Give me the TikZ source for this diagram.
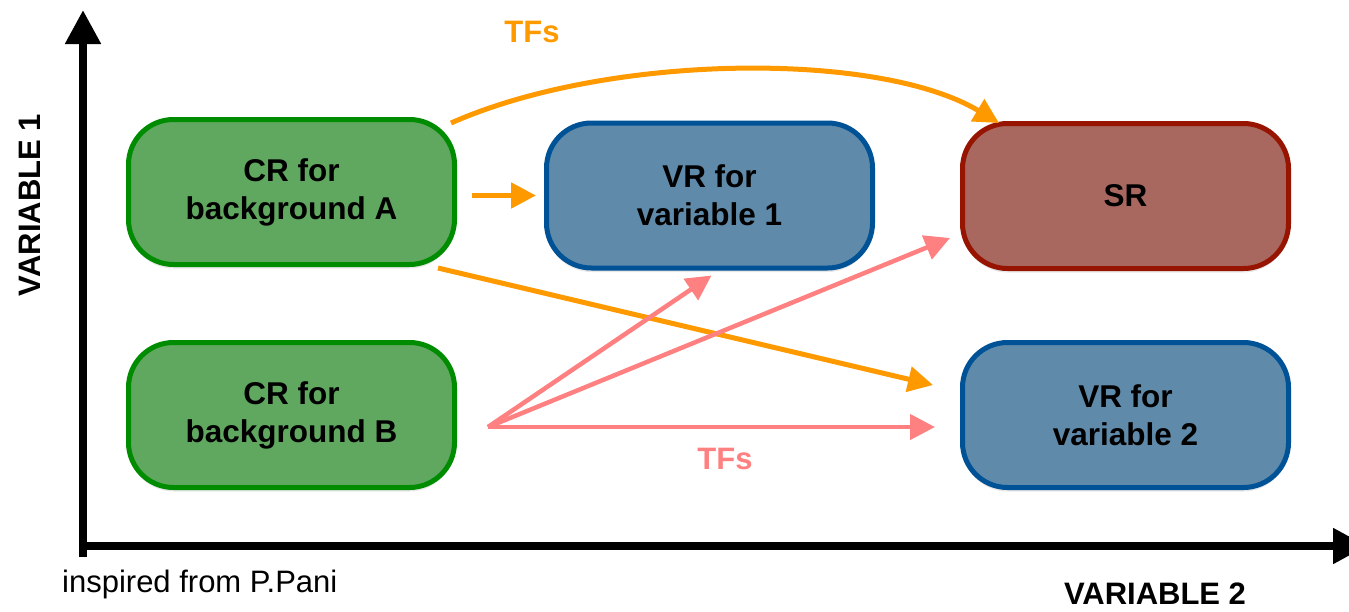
\documentclass[tikz,border=0pt]{standalone}
\usepackage{fontspec}
\setmainfont{Liberation Sans}
\usetikzlibrary{arrows.meta,shadows}

\definecolor{crfill}{RGB}{96,168,96}
\definecolor{crline}{RGB}{0,140,0}
\definecolor{vrfill}{RGB}{95,138,170}
\definecolor{vrline}{RGB}{0,82,150}
\definecolor{srfill}{RGB}{168,104,96}
\definecolor{srline}{RGB}{150,20,0}
\definecolor{tforange}{RGB}{255,153,0}
\definecolor{tfpink}{RGB}{255,128,128}

\begin{document}
\begin{tikzpicture}[x=1pt,y=-1pt,
  region/.style={rectangle,rounded corners=45pt,line width=5pt,
    minimum width=326pt,minimum height=145pt,inner sep=0pt,align=center,
    font=\bfseries\fontsize{31.5}{38}\selectfont,
    drop shadow={opacity=0.18,shadow xshift=0pt,shadow yshift=-4pt}},
  crbox/.style={region,draw=crline,fill=crfill},
  vrbox/.style={region,draw=vrline,fill=vrfill},
  srbox/.style={region,draw=srline,fill=srfill},
  tfo/.style={draw=tforange,line width=5pt,-{Triangle[length=25pt,width=25pt]}},
  tfp/.style={draw=tfpink,line width=4.5pt,-{Triangle[length=25pt,width=25pt]}},
  axis/.style={line width=8pt,-{Triangle[length=34pt,width=34pt]}},
  lbl/.style={font=\bfseries\fontsize{31}{38}\selectfont}]
  \useasboundingbox (0,0) rectangle (1349,611);

  % axes
  \draw[axis] (83,557) -- (83,10);
  \draw[axis] (79,546) -- (1367,546);
  \node[lbl,rotate=90] (var1) at (29.5,205) {VARIABLE 1};
  \node[lbl] (var2) at (1155,594) {VARIABLE 2};
  \node[anchor=base west,inner sep=0pt,font=\fontsize{31}{36}\selectfont] (credit) at (62,592) {inspired from P.Pani};

  % regions
  \node[crbox] (cra) at (291.5,192) {CR for\\background A};
  \node[crbox] (crb) at (291.5,415) {CR for\\background B};
  \node[vrbox] (vr1) at (709.5,195.5) {VR for\\variable 1};
  \node[srbox] (sr) at (1125.5,196) {SR};
  \node[vrbox] (vr2) at (1125.5,415) {VR for\\variable 2};

  % transfer factors from CR A
  \draw[tfo] ([shift={(-6,6)}]cra.north east) .. controls +(158,-70) and +(-120,-72) .. ([shift={(39,2)}]sr.north west);
  \draw[tfo,shorten <=15pt,shorten >=8pt] (cra.east |- vr1.west) -- (vr1.west);
  \draw[tfo] ([shift={(-19,1)}]cra.south east) -- ([shift={(-27,-30)}]vr2.west);
  \node[lbl,text=tforange] (tfa) at (532,32) {TFs};

  % transfer factors from CR B
  \coordinate (fork) at ([shift={(31,12)}]crb.east);
  \draw[tfp] (fork) -- ([shift={(2,5)}]vr1.south);
  \draw[tfp] (fork) -- ([shift={(-10,-33)}]sr.south west);
  \draw[tfp] (fork) -- ([shift={(-25,12)}]vr2.west);
  \node[lbl,text=tfpink] (tfb) at (725,459) {TFs};
\end{tikzpicture}
\end{document}
